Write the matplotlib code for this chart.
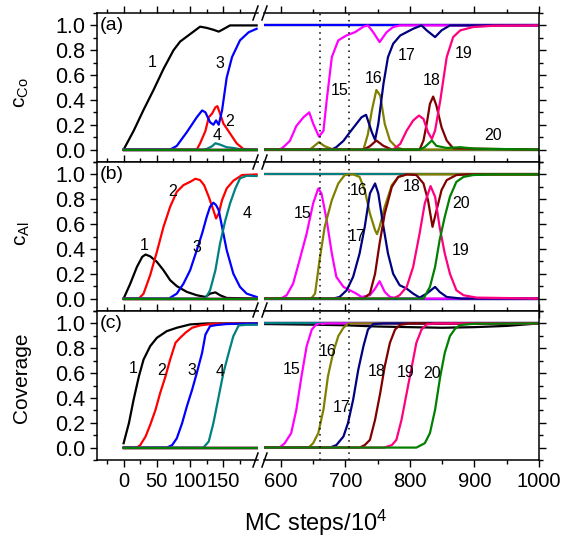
import matplotlib
matplotlib.use("Agg")
import matplotlib.pyplot as plt
import numpy as np
from matplotlib.lines import Line2D
from matplotlib.ticker import FixedLocator, FormatStrFormatter, MultipleLocator

plt.rcParams["font.family"] = ["Liberation Sans", "DejaVu Sans"]
plt.rcParams["mathtext.default"] = "regular"

LAYERS = ["1", "2", "3", "4", "15", "16", "17", "18", "19", "20"]
COLORS = {"1": "#000000", "2": "#FF0000", "3": "#0000FF", "4": "#008080",
          "15": "#FF00FF", "16": "#808000", "17": "#000080", "18": "#800000",
          "19": "#FF0080", "20": "#008000"}

# x in MC steps/1e4; scale break between 200 and 574
BREAK_LO, BREAK_HI = 200, 574
DOTTED_X = [661, 706]

# (a) c_Co
CO = {
    "1": ([0, 15, 30, 45, 60, 75, 85, 95, 115, 125, 135, 143, 150, 160, 200, 574, 1000],
          [0, 0.15, 0.32, 0.48, 0.65, 0.80, 0.87, 0.91, 0.99, 0.98, 0.965, 0.95, 0.97, 1.0, 1.0, 1.0, 1.0]),
    "2": ([0, 110, 115, 123, 128, 133, 138, 141, 145, 150, 160, 170, 180, 200, 574, 1000],
          [0, 0, 0.05, 0.15, 0.26, 0.29, 0.34, 0.35, 0.29, 0.21, 0.13, 0.05, 0.005, 0, 0, 0]),
    "3": ([0, 70, 80, 95, 110, 118, 123, 130, 135, 139, 143, 148, 155, 163, 175, 188, 200, 574, 1000],
          [0, 0, 0.03, 0.14, 0.26, 0.315, 0.30, 0.22, 0.20, 0.235, 0.20, 0.315, 0.58, 0.745, 0.88,
           0.945, 0.973, 1.0, 1.0]),
    "4": ([0, 120, 125, 133, 138, 145, 155, 165, 175, 200, 574, 1000],
          [0, 0, 0.005, 0.027, 0.051, 0.04, 0.019, 0.013, 0.003, 0, 0, 0]),
    "15": ([0, 200, 574, 598, 604, 614, 624, 635, 644, 650, 659, 666, 671, 679, 689, 702, 715, 728,
            735, 743, 753, 764, 774, 785, 1000],
           [0, 0, 0, 0, 0.02, 0.07, 0.19, 0.26, 0.30, 0.21, 0.105, 0.15, 0.395, 0.745, 0.88, 0.92,
            0.946, 0.99, 1.0, 0.946, 0.866, 0.946, 0.987, 1.0, 1.0]),
    "16": ([0, 200, 574, 645, 652, 659, 668, 679, 728, 735, 741, 748, 754, 761, 769, 779, 790, 1000],
           [0, 0, 0, 0, 0.03, 0.06, 0.027, 0.005, 0, 0.126, 0.315, 0.48, 0.435, 0.207, 0.073, 0.019, 0, 0]),
    "17": ([0, 200, 574, 679, 686, 697, 707, 717, 725, 732, 735, 741, 746, 751, 759, 766, 774, 785,
            795, 805, 818, 826, 839, 849, 862, 1000],
           [0, 0, 0, 0, 0.02, 0.07, 0.14, 0.207, 0.26, 0.28, 0.234, 0.14, 0.078, 0.207, 0.53, 0.745,
            0.852, 0.919, 0.946, 0.973, 1.0, 0.96, 0.906, 0.96, 1.0, 1.0]),
    "18": ([0, 200, 574, 728, 738, 748, 759, 772, 815, 821, 826, 831, 836, 841, 849, 857, 867, 1000],
           [0, 0, 0, 0, 0.027, 0.073, 0.03, 0, 0, 0.073, 0.207, 0.368, 0.427, 0.355, 0.18, 0.073, 0.01, 0]),
    "19": ([0, 200, 574, 774, 785, 795, 805, 814, 821, 828, 834, 839, 847, 857, 867, 878, 898, 929, 1000],
           [0, 0, 0, 0, 0.046, 0.153, 0.234, 0.274, 0.247, 0.14, 0.086, 0.153, 0.395, 0.745, 0.906,
            0.96, 0.987, 0.997, 1.0]),
    "20": ([0, 200, 574, 815, 823, 834, 841, 857, 878, 900, 929, 1000],
           [0, 0, 0, 0, 0.02, 0.073, 0.03, 0.013, 0.019, 0.008, 0.005, 0]),
}

# (b) c_Al
AL = {
    "1": ([0, 10, 20, 28, 33, 40, 50, 60, 70, 80, 95, 110, 123, 130, 138, 145, 155, 200, 574, 1000],
          [0, 0.12, 0.255, 0.336, 0.355, 0.34, 0.296, 0.228, 0.148, 0.10, 0.054, 0.027, 0.013, 0.04,
           0.05, 0.027, 0.005, 0, 0, 0]),
    "2": ([0, 23, 30, 40, 50, 60, 70, 80, 90, 100, 108, 115, 121, 128, 135, 139, 143, 148, 155, 165,
           178, 200, 574, 1000],
          [0, 0, 0.04, 0.19, 0.376, 0.578, 0.74, 0.86, 0.914, 0.94, 0.965, 0.954, 0.914, 0.82, 0.712,
           0.645, 0.685, 0.793, 0.887, 0.949, 0.995, 1.0, 1.0, 1.0]),
    "3": ([0, 68, 80, 90, 100, 110, 118, 125, 130, 135, 139, 143, 148, 155, 165, 175, 185, 200, 574, 1000],
          [0, 0, 0.04, 0.12, 0.228, 0.39, 0.524, 0.659, 0.74, 0.772, 0.753, 0.712, 0.578, 0.39, 0.2,
           0.094, 0.04, 0.013, 0, 0]),
    "4": ([0, 123, 130, 138, 145, 153, 160, 168, 175, 185, 200, 574, 1000],
          [0, 0, 0.067, 0.228, 0.444, 0.632, 0.766, 0.887, 0.968, 0.989, 0.987, 1.0, 1.0]),
    "15": ([0, 200, 574, 600, 609, 619, 629, 640, 650, 658, 663, 671, 679, 686, 697, 707, 717, 725,
            738, 746, 753, 761, 769, 784, 1000],
           [0, 0, 0, 0, 0.027, 0.12, 0.31, 0.524, 0.766, 0.887, 0.847, 0.632, 0.363, 0.175, 0.094,
            0.067, 0.04, 0.013, 0.027, 0.08, 0.14, 0.054, 0.013, 0, 0]),
    "16": ([0, 200, 574, 647, 653, 660, 668, 679, 689, 699, 712, 722, 730, 738, 746, 749, 753, 761,
            772, 782, 795, 1000],
           [0, 0, 0, 0, 0.04, 0.31, 0.578, 0.793, 0.927, 0.995, 1.0, 0.98, 0.874, 0.685, 0.551, 0.519,
            0.578, 0.74, 0.914, 0.98, 1.0, 1.0]),
    "17": ([0, 200, 574, 681, 691, 702, 712, 722, 730, 738, 746, 751, 759, 766, 774, 784, 795, 805,
            815, 826, 839, 846, 857, 880, 1000],
           [0, 0, 0, 0, 0.013, 0.067, 0.175, 0.363, 0.578, 0.847, 0.927, 0.847, 0.578, 0.363, 0.2,
            0.108, 0.08, 0.04, 0.008, 0.04, 0.094, 0.054, 0.013, 0, 0]),
    "18": ([0, 200, 574, 728, 738, 746, 753, 761, 772, 782, 795, 810, 821, 828, 835, 840, 849, 857,
            872, 888, 1000],
           [0, 0, 0, 0, 0.04, 0.2, 0.444, 0.685, 0.9, 0.98, 1.0, 0.995, 0.927, 0.793, 0.578, 0.685,
            0.874, 0.954, 0.995, 1.0, 1.0]),
    "19": ([0, 200, 574, 774, 784, 795, 805, 815, 823, 832, 839, 846, 854, 862, 872, 883, 903, 1000],
           [0, 0, 0, 0, 0.027, 0.094, 0.255, 0.524, 0.766, 0.906, 0.82, 0.578, 0.363, 0.2, 0.067,
            0.027, 0.008, 0]),
    "20": ([0, 200, 574, 821, 831, 839, 846, 854, 862, 872, 883, 898, 929, 1000],
           [0, 0, 0, 0, 0.094, 0.255, 0.47, 0.659, 0.82, 0.94, 0.98, 0.995, 1.0, 1.0]),
}

# (c) coverage
COV = {
    "1": ([0, 8, 15, 23, 30, 40, 50, 65, 80, 100, 125, 200, 574, 650, 700, 750, 800, 850, 900, 950, 1000],
          [0.035, 0.197, 0.385, 0.574, 0.709, 0.817, 0.884, 0.938, 0.965, 0.992, 1.0, 1.0, 0.995,
           0.99, 0.985, 0.975, 0.97, 0.965, 0.97, 0.98, 1.0]),
    "2": ([0, 20, 25, 33, 40, 48, 55, 63, 70, 78, 85, 93, 103, 115, 135, 200, 574, 1000],
          [0, 0, 0.02, 0.089, 0.183, 0.305, 0.44, 0.574, 0.709, 0.844, 0.884, 0.925, 0.965, 0.984,
           0.997, 1.0, 1.0, 1.0]),
    "3": ([0, 65, 73, 80, 88, 95, 103, 110, 118, 123, 130, 140, 155, 200, 574, 1000],
          [0, 0, 0.02, 0.075, 0.197, 0.33, 0.466, 0.6, 0.763, 0.91, 0.978, 0.987, 0.995, 1.0, 1.0, 1.0]),
    "4": ([0, 120, 128, 135, 143, 150, 158, 165, 173, 185, 200, 574, 1000],
          [0, 0, 0.049, 0.197, 0.412, 0.6, 0.763, 0.898, 0.984, 0.989, 0.989, 1.0, 1.0]),
    "15": ([0, 200, 574, 598, 606, 616, 624, 632, 640, 648, 655, 671, 1000],
           [0, 0, 0, 0, 0.035, 0.116, 0.305, 0.574, 0.817, 0.951, 0.992, 1.0, 1.0]),
    "16": ([0, 200, 574, 643, 650, 658, 666, 673, 681, 689, 697, 704, 720, 1000],
           [0, 0, 0, 0, 0.035, 0.116, 0.305, 0.574, 0.763, 0.898, 0.965, 0.997, 1.0, 1.0]),
    "17": ([0, 200, 574, 676, 686, 697, 704, 712, 720, 728, 735, 743, 760, 1000],
           [0, 0, 0, 0, 0.02, 0.089, 0.197, 0.385, 0.628, 0.817, 0.951, 0.995, 1.0, 1.0]),
    "18": ([0, 200, 574, 722, 730, 738, 746, 754, 761, 769, 777, 785, 800, 1000],
           [0, 0, 0, 0, 0.02, 0.062, 0.224, 0.44, 0.655, 0.844, 0.951, 0.989, 1.0, 1.0]),
    "19": ([0, 200, 574, 760, 772, 779, 787, 795, 803, 810, 818, 826, 840, 1000],
           [0, 0, 0, 0, 0.02, 0.062, 0.224, 0.44, 0.655, 0.844, 0.951, 0.992, 1.0, 1.0]),
    "20": ([0, 200, 574, 810, 823, 831, 839, 847, 854, 862, 870, 878, 898, 1000],
           [0, 0, 0, 0, 0.035, 0.116, 0.305, 0.574, 0.763, 0.898, 0.957, 0.987, 0.997, 1.0]),
}

# curve number labels: (text, x, y)
CO_LABELS = [("1", 43, 0.70), ("3", 145, 0.69), ("2", 160, 0.23), ("4", 140, 0.11),
             ("15", 691, 0.476), ("16", 743, 0.57), ("17", 795, 0.758), ("18", 834, 0.556),
             ("19", 883, 0.77), ("20", 929, 0.113)]
AL_LABELS = [("1", 31, 0.43), ("2", 73, 0.86), ("3", 110, 0.41), ("4", 185, 0.685),
             ("15", 634, 0.685), ("16", 720, 0.874), ("17", 717, 0.5), ("18", 803, 0.9),
             ("19", 878, 0.384), ("20", 880, 0.766)]
COV_LABELS = [("1", 15, 0.633), ("2", 57, 0.62), ("3", 103, 0.62), ("4", 145, 0.615),
              ("15", 616, 0.628), ("16", 673, 0.77), ("17", 694, 0.326), ("18", 748, 0.615),
              ("19", 793, 0.606), ("20", 835, 0.593)]

W, H = 562, 540
fig = plt.figure(figsize=(W / 100, H / 100), dpi=100)
gs = fig.add_gridspec(3, 2, left=97 / W, right=539 / W, top=1 - 13 / H, bottom=1 - 460 / H,
                      hspace=0, wspace=0.028, width_ratios=[161, 275])

panels = [(CO, CO_LABELS, "(a)", r"c$_{Co}$", 93),
          (AL, AL_LABELS, "(b)", r"c$_{Al}$", 234),
          (COV, COV_LABELS, "(c)", "Coverage", 378)]

for row, (curves, labels, tag, ylab, ylab_px) in enumerate(panels):
    ax_l = fig.add_subplot(gs[row, 0])
    ax_r = fig.add_subplot(gs[row, 1])
    for key in LAYERS:
        xs = np.asarray(curves[key][0], float)
        ys = np.asarray(curves[key][1], float)
        m_l = xs <= BREAK_LO
        m_r = xs >= BREAK_HI
        ax_l.plot(xs[m_l], ys[m_l], color=COLORS[key], lw=1.6, solid_joinstyle="round")
        ax_r.plot(xs[m_r], ys[m_r], color=COLORS[key], lw=1.6, solid_joinstyle="round")
    for txt, x, y in labels:
        ax = ax_l if x <= BREAK_LO else ax_r
        ax.text(x, y, txt, fontsize=11.5, ha="center", va="center")
    for xd in DOTTED_X:
        ax_r.axvline(xd, color="black", lw=1.1, ls=(0, (1, 3)))

    ax_l.set_xlim(-40, 202)
    ax_r.set_xlim(BREAK_HI, 1000)
    for ax in (ax_l, ax_r):
        ax.set_ylim(-0.1, 1.1)
        ax.yaxis.set_major_locator(MultipleLocator(0.2))
        ax.yaxis.set_minor_locator(MultipleLocator(0.1))
        ax.tick_params(which="both", direction="out", top=True, bottom=True, width=1.0)
        ax.tick_params(which="major", length=5)
        ax.tick_params(which="minor", length=3)
        ax.tick_params(axis="x", labelsize=14.5)
        ax.tick_params(axis="y", labelsize=15.5)
        for sp in ax.spines.values():
            sp.set_linewidth(1.1)
    ax_l.xaxis.set_major_locator(FixedLocator([0, 50, 100, 150]))
    ax_l.xaxis.set_minor_locator(FixedLocator([-25, 25, 75, 125, 175]))
    ax_r.xaxis.set_major_locator(MultipleLocator(100))
    ax_r.xaxis.set_minor_locator(MultipleLocator(50))
    ax_l.yaxis.set_major_formatter(FormatStrFormatter("%.1f"))
    ax_l.spines["right"].set_visible(False)
    ax_r.spines["left"].set_visible(False)
    ax_l.tick_params(which="both", left=True, right=False)
    ax_r.tick_params(which="both", left=False, right=True, labelleft=False)
    if row < 2:
        ax_l.tick_params(labelbottom=False)
        ax_r.tick_params(labelbottom=False)

    ax_l.text(-36, 1.0, tag, fontsize=14, ha="left", va="center")
    fig.text(22 / W, 1 - ylab_px / H, ylab, rotation=90, fontsize=15, ha="center", va="center")

# break marks on the frame
for yb in (13, 162, 310, 460):
    for x0 in (253, 262):
        fig.add_artist(Line2D([x0 / W, (x0 + 5) / W], [1 - (yb + 7) / H, 1 - (yb - 7) / H],
                              transform=fig.transFigure, color="black", lw=1.1))

fig.text(316 / W, 1 - 523 / H, r"MC steps/10$^{4}$", fontsize=17, ha="center", va="center")

fig.savefig("out.png", dpi=100)
